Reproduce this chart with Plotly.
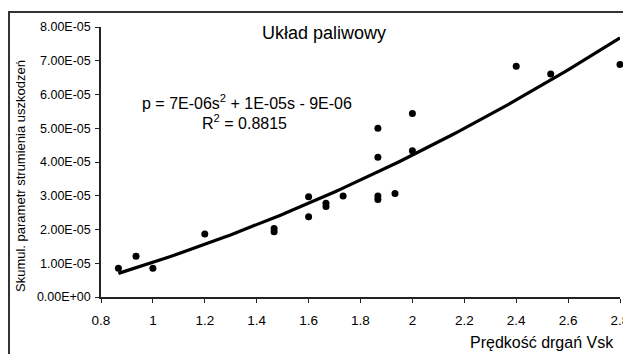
import numpy as np
import plotly.graph_objects as go

# Data
vsk = [0.867, 0.935, 1.0, 1.2, 1.467, 1.467, 1.6, 1.6, 1.667, 1.667, 1.733,
       1.867, 1.867, 1.867, 1.867, 1.933, 2.0, 2.0, 2.4, 2.533, 2.8]
param = [0.85e-5, 1.21e-5, 0.85e-5, 1.87e-5, 2.03e-5, 1.93e-5, 2.97e-5, 2.38e-5,
         2.78e-5, 2.68e-5, 2.99e-5, 2.99e-5, 2.89e-5, 4.14e-5, 5.00e-5, 3.07e-5,
         4.33e-5, 5.44e-5, 6.84e-5, 6.61e-5, 6.89e-5]

y_tickvals = [0, 1e-5, 2e-5, 3e-5, 4e-5, 5e-5, 6e-5, 7e-5, 8e-5]
y_ticktext = ["0.00E+00", "1.00E-05", "2.00E-05", "3.00E-05", "4.00E-05",
              "5.00E-05", "6.00E-05", "7.00E-05", "8.00E-05"]
x_tickvals = [0.8, 1.0, 1.2, 1.4, 1.6, 1.8, 2.0, 2.2, 2.4, 2.6, 2.8]
x_ticktext = ["0.8", "1", "1.2", "1.4", "1.6", "1.8", "2", "2.2", "2.4", "2.6", "2.8"]

title_text = "Układ paliwowy"
eq_text = "p = 7E-06s<sup>2</sup> + 1E-05s - 9E-06"
r2_text = "R<sup>2</sup> = 0.8815"
x_title = "Prędkość drgań Vsk"
y_title = "Skumul. parametr strumienia uszkodzeń"

# Polynomial (order 2) trendline fitted to the data
coef = np.polyfit(vsk, param, 2)
xs = np.linspace(min(vsk), max(vsk), 100)
ys = np.polyval(coef, xs)

FONT = "Liberation Sans, Arial, sans-serif"

W, H = 623, 354
L, R, T, B = 101, 3, 27, 57
pw = W - L - R
ph = H - T - B

def px2paper_x(px):
    return (px - L) / pw

def px2paper_y(py):
    return (H - B - py) / ph

fig = go.Figure()
fig.add_trace(go.Scatter(x=vsk, y=param, mode="markers",
                         marker=dict(color="black", size=7),
                         showlegend=False, cliponaxis=False))
fig.add_trace(go.Scatter(x=xs, y=ys, mode="lines",
                         line=dict(color="black", width=3.2),
                         showlegend=False, cliponaxis=False))

fig.update_layout(
    width=W, height=H,
    margin=dict(l=L, r=R, t=T, b=B, autoexpand=False),
    paper_bgcolor="white", plot_bgcolor="white",
    font=dict(family=FONT, color="black"),
    xaxis=dict(range=[0.8, 2.8], tickvals=x_tickvals, ticktext=x_ticktext,
               showgrid=False, zeroline=False, showline=True, automargin=False,
               linecolor="#222", linewidth=1.5, ticks="outside", ticklen=4,
               tickcolor="#222", tickfont=dict(size=13.5, family=FONT),
               ticklabelstandoff=6, ticklabeloverflow="allow"),
    yaxis=dict(range=[0, 8e-5], tickvals=y_tickvals, ticktext=y_ticktext,
               showgrid=False, zeroline=False, showline=True, automargin=False,
               linecolor="#222", linewidth=1.5, ticks="outside", ticklen=4,
               tickcolor="#222", tickfont=dict(size=12.5, family=FONT),
               ticklabelstandoff=2),
    shapes=[
        dict(type="line", xref="paper", yref="paper", layer="above",
             x0=px2paper_x(9), x1=px2paper_x(623),
             y0=px2paper_y(12), y1=px2paper_y(12),
             line=dict(color="#333", width=1.8)),
    ],
    annotations=[
        # outer chart-area frame: top edge and left edge as thin filled bars
        dict(text=" ", xref="paper", yref="paper",
             x=px2paper_x(8), y=px2paper_y(11), xanchor="left", yanchor="top",
             width=614, height=2, borderpad=0, borderwidth=0, showarrow=False,
             bgcolor="#333", font=dict(size=1)),
        dict(text=" ", xref="paper", yref="paper",
             x=px2paper_x(8), y=px2paper_y(11), xanchor="left", yanchor="top",
             width=2, height=345, borderpad=0, borderwidth=0, showarrow=False,
             bgcolor="#333", font=dict(size=1)),
        dict(text=title_text, xref="paper", yref="paper",
             x=px2paper_x(324), y=px2paper_y(33), xanchor="center", yanchor="middle",
             showarrow=False, font=dict(size=18, family=FONT)),
        dict(text=eq_text, xref="paper", yref="paper",
             x=px2paper_x(247), y=px2paper_y(102), xanchor="center", yanchor="middle",
             showarrow=False, font=dict(size=16, family=FONT)),
        dict(text=r2_text, xref="paper", yref="paper",
             x=px2paper_x(244), y=px2paper_y(122), xanchor="center", yanchor="middle",
             showarrow=False, font=dict(size=16, family=FONT)),
        dict(text=x_title, xref="paper", yref="paper",
             x=px2paper_x(616), y=px2paper_y(342), xanchor="right", yanchor="middle",
             showarrow=False, font=dict(size=16, family=FONT)),
        dict(text=y_title, xref="paper", yref="paper",
             x=px2paper_x(20), y=px2paper_y(176), xanchor="center", yanchor="middle",
             textangle=-90, showarrow=False, font=dict(size=13, family=FONT)),
    ],
)

fig.write_html(
    "out.html",
    config={"displayModeBar": False},
    post_script="document.body.style.margin='0';document.body.style.overflow='hidden';",
)
